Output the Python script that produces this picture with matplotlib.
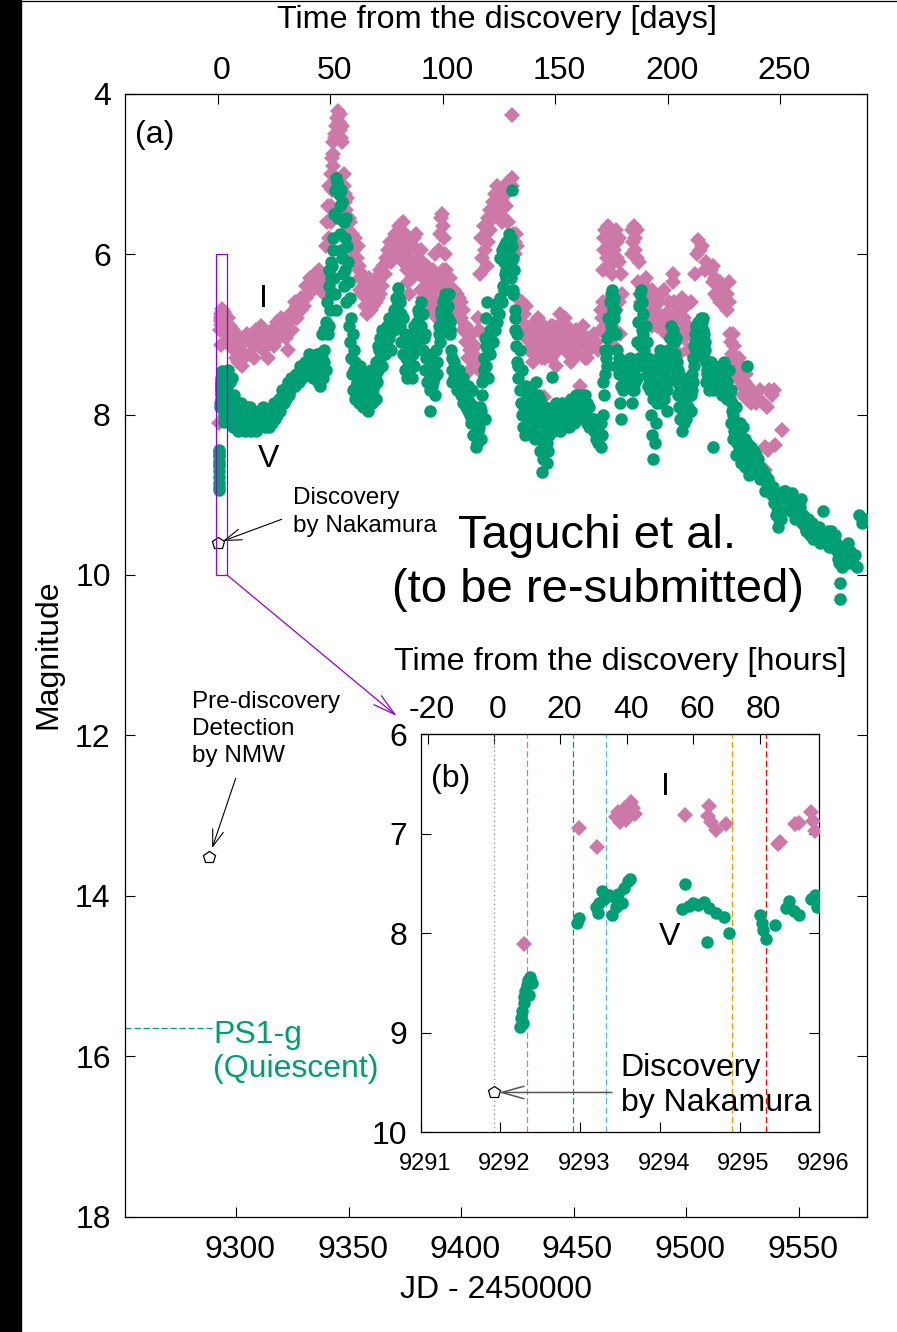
import matplotlib
matplotlib.use("Agg")
import matplotlib.pyplot as plt
from matplotlib.patches import Rectangle
from matplotlib.lines import Line2D
from matplotlib.transforms import ScaledTranslation

plt.rcParams['font.family'] = ['Liberation Sans', 'DejaVu Sans']
plt.rcParams['axes.unicode_minus'] = False

W, H = 897, 1332
GREEN = '#009E73'
PINK = '#CC79A7'
VIOLET = '#9400D3'

# ---- data (JD - 2450000, magnitude) ----
v_jd = [
    9292.24, 9292.26, 9292.27, 9292.29, 9292.30, 9292.31, 9292.33, 9292.35, 9292.37, 9292.39, 9292.36, 9292.28,
    9292.96, 9292.98, 9293.20, 9293.24, 9293.30, 9293.36, 9293.42, 9293.48, 9293.55, 9293.60, 9293.63, 9293.45,
    9293.22, 9293.40, 9293.52, 9293.28,
    9294.28, 9294.32, 9294.36, 9294.42, 9294.48, 9294.55, 9294.59, 9294.62, 9294.70, 9294.80, 9294.87,
    9295.25, 9295.28, 9295.30, 9295.33, 9295.45, 9295.58, 9295.62, 9295.68, 9295.74, 9295.90, 9295.94, 9295.97,
    9296.3, 9296.8, 9297.3, 9297.8, 9298.3, 9298.8, 9299.3, 9299.8, 9300.3, 9300.8, 9301.3, 9301.8, 9302.3, 9302.8, 9303.3, 9303.8,
    9305, 9306, 9307, 9308, 9309, 9310, 9311, 9312, 9313, 9314,
    9315, 9316, 9317, 9318, 9319, 9320, 9321, 9322, 9323, 9324,
    9325, 9326, 9327, 9328, 9329, 9330, 9331, 9332, 9333, 9334,
    9335, 9336, 9337, 9338, 9339, 9340, 9336.5, 9338.5,
    9341.0, 9341.3, 9341.6, 9342.0, 9342.3, 9342.6, 9343.0, 9343.3, 9343.6, 9344.0,
    9344.3, 9344.8, 9345.3, 9345.8, 9346.3, 9346.8, 9347.3, 9347.8, 9348.3, 9348.8,
    9349.3, 9349.8, 9350.3, 9350.8, 9351.3, 9351.8, 9352.3, 9352.8, 9353.3, 9353.8,
    9354.3, 9355.0, 9355.8, 9356.5, 9357.3, 9358.0, 9358.8, 9359.5, 9360.3,
    9361, 9362, 9363, 9364, 9365, 9366, 9367, 9368, 9369, 9370,
    9371, 9372, 9373, 9374, 9375, 9376, 9377, 9378, 9379, 9380,
    9381, 9382, 9383, 9384, 9385, 9386, 9386.5, 9387.5, 9388.5, 9389.5,
    9390.5, 9391.5, 9392.5, 9393.5, 9394.5, 9395, 9396, 9397, 9398, 9399,
    9400, 9401, 9402, 9403, 9404, 9404.5, 9405.5, 9406.5, 9407, 9407.5,
    9408.5, 9409.3, 9410.0, 9410.5, 9411.0, 9411.5, 9409.0, 9410.8, 9412.0, 9412.8,
    9413.5, 9414.5, 9415.5, 9416.5, 9417.5, 9418.5, 9419.5, 9420.5, 9421.0, 9421.5,
    9422.0, 9422.5, 9422.7, 9423.0, 9423.5, 9424.0, 9424.5, 9425.0, 9425.5, 9426.0,
    9426.5, 9427.0, 9427.5, 9428.0, 9419.0, 9420.0,
    9429, 9430, 9431, 9431.5, 9432, 9433, 9433.5, 9434, 9435, 9435.5,
    9436, 9436.5, 9437, 9437.5, 9438, 9439, 9440, 9440.4, 9441, 9442,
    9443, 9444, 9445, 9446, 9447, 9448, 9449, 9450, 9451, 9452,
    9453, 9454, 9455, 9456, 9457, 9458, 9459, 9460, 9461, 9462,
    9462.5, 9463, 9463.5, 9464, 9464.5, 9465, 9465.5, 9466, 9466.5, 9467,
    9467.5, 9468, 9468.5, 9469, 9470, 9470.5, 9471, 9472, 9473, 9474,
    9475, 9476, 9477, 9478, 9478.5, 9479, 9479.5, 9480, 9480.5, 9481,
    9482, 9482.5, 9483, 9483.5, 9484, 9484.5, 9485, 9485.5, 9486, 9486.5,
    9487, 9487.5, 9488, 9488.5, 9489, 9489.5, 9490, 9490.5, 9491, 9491.5,
    9492, 9493, 9493.5, 9494, 9494.5, 9495, 9495.5, 9496, 9496.5, 9497,
    9497.5, 9498, 9498.5, 9499, 9499.5, 9500, 9500.5, 9501, 9502, 9502.5,
    9503, 9503.5, 9504, 9504.5, 9505, 9505.5, 9506, 9506.5, 9507, 9507.5,
    9508, 9508.5, 9509, 9509.5, 9510, 9510.5, 9511, 9512, 9512.5, 9513,
    9514, 9515, 9516, 9517, 9518, 9519, 9520, 9520.5, 9521, 9521.5,
    9522, 9522.5, 9523, 9523.5, 9524, 9524.5, 9525, 9525.5, 9526, 9527,
    9527.5, 9528, 9529, 9530, 9531, 9532, 9533, 9534, 9535, 9536,
    9537, 9538, 9539, 9540, 9541, 9542, 9543, 9544, 9545, 9546,
    9547, 9548, 9549, 9550, 9551, 9552, 9553, 9554, 9555, 9556,
    9557, 9558, 9559, 9560, 9561, 9562, 9563, 9564, 9565, 9566,
    9567, 9568, 9568.4, 9568.6, 9569, 9570, 9571, 9572, 9573, 9574,
    9575, 9576, 9577, 9578, 9579.5,
    # further nightly measurements
    9297, 9298, 9299, 9300, 9301, 9302, 9303, 9304, 9305.5, 9306.5,
    9307.5, 9308.5, 9309.5, 9310.5, 9311.5, 9312.5, 9313.5, 9314.5, 9315.5, 9316.5,
    9317.5, 9318.5, 9319.5, 9320.5, 9321.5, 9322.5, 9323.5, 9324.5, 9325.5, 9326.5,
    9327.5, 9328.5, 9329.5, 9330.5, 9331.5, 9332.5, 9333.5, 9334.5, 9335.5, 9336,
    9337, 9338, 9339, 9337.5, 9338.2, 9339.2, 9340.2, 9340.5, 9341.2, 9341.5,
    9342.2, 9343.5, 9344.2, 9344.6, 9345.5, 9346.0, 9346.5, 9347.0, 9347.5, 9348.0,
    9348.5, 9349.0, 9350.0, 9350.5, 9351.0, 9351.5, 9352.0, 9353.0, 9354.0, 9355.0,
    9356, 9357, 9358, 9359, 9360, 9361, 9362, 9362.5, 9363, 9364,
    9365, 9366, 9367, 9368, 9369, 9370, 9371, 9372, 9373, 9373.5,
    9374, 9375, 9376, 9377, 9378, 9379, 9380, 9381, 9382, 9383,
    9384, 9385, 9386, 9387, 9388, 9389, 9390, 9391, 9392, 9393,
    9394, 9395, 9395.5, 9396, 9397, 9398, 9399, 9400, 9401, 9402,
    9403, 9404, 9405, 9406, 9407, 9408, 9409, 9410, 9411, 9412,
    9413, 9414, 9415, 9416, 9417, 9418, 9419, 9420, 9421, 9422,
    9423, 9424, 9425, 9426, 9427, 9428, 9428.5, 9429, 9430, 9431,
    9432, 9433, 9434, 9435, 9436, 9437, 9438, 9439, 9440, 9441,
    9442, 9443, 9444, 9445, 9446, 9447, 9448, 9449, 9450, 9451,
    9452, 9453, 9454, 9455, 9456, 9457, 9459, 9460, 9461, 9462,
    9463, 9464, 9465, 9466, 9467, 9468, 9469, 9470, 9471, 9472,
    9473, 9474, 9475, 9476, 9477, 9478, 9479, 9480, 9481, 9482,
    9483, 9484, 9485, 9486, 9487, 9488, 9489, 9490, 9491, 9493,
    9494, 9495, 9496, 9497, 9498, 9499, 9500, 9501, 9502, 9503,
    9504, 9505, 9506, 9507, 9508, 9509, 9510, 9511, 9512, 9513,
    9514, 9515, 9516, 9517, 9518, 9519, 9520, 9521, 9522, 9523,
    9524, 9525, 9526, 9527, 9528, 9529, 9530, 9531, 9532, 9533,
    9534, 9535, 9536.5, 9537.5, 9538.5, 9539.5, 9540.5, 9541.5, 9542.5, 9543.5,
    9544.5, 9545.5, 9546.5, 9547.5, 9548.5, 9549.5, 9550.5, 9551.5, 9552.5, 9553.5,
    9554.5, 9555.5, 9556.5, 9557.5, 9558.5, 9559.5, 9560.5, 9562.5, 9563.5, 9564.5,
    9566.5, 9567.5, 9569.5, 9570.5, 9571.5, 9572.5,
    9352.5, 9353.5, 9354.5, 9355.5, 9356.5, 9357.5, 9358.5, 9359.5, 9360.5, 9361.5,
    9362.2, 9363.5, 9364.5, 9365.5, 9366.5, 9367.5, 9368.5, 9369.5, 9370.5, 9371.5,
    9372.5, 9373.2, 9374.5, 9375.5, 9376.5, 9377.5, 9378.5, 9379.5, 9380.5, 9381.5,
    9382.5, 9383.5, 9384.5, 9385.5, 9386.2, 9387.2, 9388.2, 9389.2, 9390.2, 9391.2,
    9392.2, 9393.2, 9394.2, 9395.2, 9396.2, 9397.2, 9398.2, 9399.2, 9400.2, 9401.2,
    9402.2, 9403.2, 9404.2, 9405.2, 9406.2, 9407.2, 9408.2, 9409.5, 9410.2, 9411.2,
    9465.5, 9466.5, 9467.5, 9468.5, 9469.5, 9470.5, 9471.5, 9472.5, 9473.5, 9474.5,
    9475.5, 9476.5, 9477.5, 9478.5, 9479.5, 9480.5, 9481.5, 9482.5, 9483.5, 9484.5,
    9485.5, 9486.5, 9487.5, 9488.5, 9489.5, 9490.5, 9491.5, 9492.5, 9493.5, 9494.5,
    9495.5, 9496.5, 9497.5, 9498.5, 9499.5, 9500.5, 9501.5, 9502.5, 9503.5, 9504.5,
    9505.5, 9506.5, 9507.5, 9508.5, 9509.5, 9510.5, 9511.5, 9512.5, 9513.5, 9514.5,
    9515.5, 9516.5, 9517.5, 9518.5, 9519.5, 9520.5, 9521.5, 9522.5, 9523.5, 9524.5,
    9429.5, 9430.5, 9431.5, 9432.5, 9433.5, 9434.5, 9435.5, 9436.5, 9437.5, 9438.5,
    9439.5, 9440.5, 9441.5, 9442.5, 9443.5, 9444.5, 9445.5, 9446.5, 9447.5, 9448.5,
    9417.2, 9418.2, 9419.2, 9420.2, 9421.2, 9421.7, 9422.2, 9423.2, 9424.2, 9425.2,
]
v_mag = [
    8.94, 8.85, 8.78, 8.70, 8.64, 8.58, 8.52, 8.47, 8.44, 8.50, 8.62, 8.90,
    7.90, 7.85, 7.74, 7.70, 7.66, 7.62, 7.64, 7.61, 7.55, 7.48, 7.46, 7.74,
    7.80, 7.82, 7.70, 7.58,
    7.76, 7.51, 7.73, 7.70, 7.72, 7.69, 8.09, 7.75, 7.80, 7.84, 8.00,
    7.82, 7.90, 7.97, 8.06, 7.92, 7.75, 7.68, 7.78, 7.82, 7.66, 7.62, 7.74,
    7.45, 7.95, 7.60, 8.10, 7.85, 8.15, 7.75, 8.05, 7.90, 8.20, 7.95, 8.10, 7.85, 8.15, 8.00, 8.20,
    8.05, 7.90, 8.15, 8.00, 8.20, 7.95, 8.10, 7.90, 8.15, 8.05,
    7.95, 8.10, 7.85, 8.00, 7.80, 7.85, 7.70, 7.80, 7.60, 7.70,
    7.55, 7.65, 7.50, 7.60, 7.45, 7.50, 7.35, 7.45, 7.30, 7.55,
    7.35, 7.25, 7.40, 7.30, 7.20, 7.45, 7.60, 7.55,
    7.00, 6.90, 6.70, 6.50, 6.30, 6.15, 5.95, 5.80, 5.50, 5.20,
    5.05, 5.10, 5.15, 5.25, 5.40, 5.20, 5.35, 5.60, 5.80, 5.55,
    5.90, 6.10, 6.35, 6.55, 6.80, 7.00, 7.20, 7.35, 7.50, 7.60,
    7.70, 7.80, 7.85, 7.90, 7.75, 7.85, 7.95, 7.80, 7.70,
    7.55, 7.35, 7.15, 7.05, 6.95, 7.10, 6.90, 6.80, 6.95, 6.70,
    6.55, 6.42, 6.60, 6.80, 7.00, 7.25, 7.45, 7.55, 7.40, 6.95,
    6.70, 6.60, 6.75, 7.00, 7.25, 7.95, 7.40, 7.60, 7.75, 7.50,
    7.10, 6.80, 6.55, 6.70, 6.50, 6.85, 7.30, 7.55, 7.45, 7.70,
    7.60, 7.85, 7.75, 7.95, 7.85, 8.10, 8.25, 8.40, 8.35, 8.20,
    7.90, 7.60, 7.30, 7.05, 6.80, 6.60, 8.30, 8.05, 7.20, 6.95,
    7.00, 6.85, 6.70, 6.60, 6.55, 6.40, 6.25, 6.10, 6.00, 5.85,
    5.80, 5.90, 5.20, 6.05, 6.20, 6.95, 7.15, 7.35, 7.55, 7.70,
    7.85, 8.00, 8.15, 7.95, 6.10, 6.30,
    7.90, 8.05, 7.70, 8.20, 7.85, 8.30, 7.60, 8.10, 8.45, 8.00,
    8.72, 8.55, 8.25, 7.90, 8.35, 8.10, 7.95, 7.53, 8.20, 8.05,
    8.15, 7.95, 8.10, 7.95, 8.05, 7.90, 8.00, 7.85, 7.95, 7.80,
    7.95, 7.85, 8.00, 8.10, 7.90, 8.05, 8.20, 8.30, 8.15, 8.40,
    8.25, 8.00, 7.75, 7.50, 7.30, 7.05, 6.80, 6.60, 6.50, 6.45,
    6.60, 6.80, 7.00, 7.40, 7.50, 7.85, 8.05, 7.45, 7.55, 7.40,
    7.50, 7.85, 7.45, 7.10, 6.85, 6.65, 6.50, 6.45, 6.60, 6.75,
    6.90, 7.10, 7.30, 7.50, 7.70, 8.00, 8.25, 8.55, 8.35, 8.10,
    7.60, 7.30, 7.45, 7.20, 7.40, 7.60, 7.80, 7.55, 7.35, 7.95,
    7.20, 7.05, 6.90, 6.95, 7.10, 7.25, 7.05, 7.60, 7.75, 7.90,
    8.05, 8.20, 7.85, 7.70, 8.00, 7.80, 7.65, 7.90, 7.75, 7.50,
    7.30, 7.15, 7.00, 6.90, 7.05, 6.85, 6.95, 6.80, 6.85, 6.80,
    7.00, 7.20, 7.35, 7.50, 7.40, 7.60, 7.35, 8.40, 7.45, 7.65,
    7.55, 7.40, 7.50, 7.35, 7.60, 7.45, 7.70, 7.85, 8.00, 8.20,
    7.90, 8.35, 8.10, 8.50, 8.25, 8.60, 8.40, 8.15, 8.30, 7.40,
    8.45, 8.55, 8.40, 8.60, 8.50, 8.70, 8.65, 8.80, 8.75, 8.90,
    8.85, 9.00, 9.10, 9.25, 9.40, 9.30, 9.00, 8.95, 9.05, 9.10,
    8.98, 9.20, 9.15, 9.30, 9.05, 9.25, 9.40, 9.30, 9.50, 9.35,
    9.45, 9.55, 9.40, 9.50, 9.20, 9.60, 9.45, 9.55, 9.65, 9.50,
    9.70, 9.85, 10.10, 10.30, 9.75, 9.65, 9.80, 9.60, 9.70, 9.85,
    9.75, 9.90, 9.25, 9.35, 9.30,
    # further nightly measurements
    7.75, 7.55, 7.95, 8.10, 7.85, 8.00, 7.90, 8.10, 7.90, 8.20,
    7.95, 8.10, 8.05, 8.15, 7.95, 8.10, 7.95, 8.15, 8.05, 7.90,
    8.05, 7.85, 7.95, 7.70, 7.85, 7.65, 7.75, 7.55, 7.65, 7.50,
    7.60, 7.40, 7.55, 7.35, 7.50, 7.25, 7.45, 7.30, 7.50, 7.40,
    7.25, 7.45, 7.35, 7.65, 7.00, 6.95, 6.85, 6.60, 6.40, 6.20,
    6.10, 6.30, 6.50, 6.70, 5.55, 5.75, 5.95, 6.05, 6.25, 6.40,
    6.20, 6.60, 6.90, 7.10, 7.30, 7.50, 7.70, 7.80, 7.55, 7.40,
    7.60, 7.85, 7.50, 7.65, 7.45, 7.75, 7.80, 7.60, 7.45, 7.30,
    7.40, 7.25, 7.15, 7.05, 7.20, 6.95, 6.85, 6.70, 6.90, 7.10,
    7.25, 7.45, 7.55, 7.20, 7.05, 6.90, 7.15, 7.00, 6.90, 7.20,
    7.45, 7.60, 7.70, 7.30, 7.45, 7.20, 6.90, 6.70, 6.85, 6.50,
    6.80, 7.00, 7.20, 7.60, 7.35, 7.70, 7.45, 7.75, 7.55, 7.90,
    7.65, 8.00, 7.70, 7.90, 8.05, 8.15, 7.95, 7.55, 7.40, 7.55,
    7.25, 7.10, 6.95, 6.85, 6.75, 6.60, 6.45, 6.20, 6.15, 6.30,
    6.50, 6.70, 7.00, 7.20, 7.45, 7.70, 8.25, 7.65, 7.80, 7.95,
    8.05, 7.95, 7.75, 7.80, 8.25, 8.45, 8.60, 8.25, 8.20, 7.90,
    7.85, 7.90, 8.20, 7.85, 8.15, 7.85, 8.15, 7.80, 8.10, 7.75,
    8.05, 7.75, 8.05, 7.75, 7.85, 8.15, 8.05, 8.10, 8.35, 8.10,
    7.60, 7.20, 7.40, 7.00, 6.80, 6.55, 7.00, 7.30, 7.65, 7.70,
    7.35, 7.65, 7.30, 7.60, 7.70, 7.55, 7.30, 7.15, 7.00, 7.40,
    7.65, 7.40, 7.60, 7.70, 7.85, 7.65, 7.85, 7.30, 7.60, 7.40,
    7.30, 7.55, 7.35, 7.50, 7.60, 8.10, 8.05, 7.55, 7.95, 7.60,
    7.10, 7.20, 7.10, 7.05, 7.30, 7.60, 7.70, 7.55, 7.70, 7.45,
    7.70, 7.60, 7.75, 7.65, 7.80, 7.70, 8.10, 8.30, 8.50, 8.30,
    8.10, 8.55, 8.65, 8.35, 8.75, 8.60, 8.45, 8.70, 8.55, 8.80,
    8.70, 8.95, 8.80, 8.95, 8.90, 9.05, 9.15, 9.30, 9.20, 8.95,
    9.05, 9.00, 9.20, 9.10, 9.30, 9.25, 9.15, 9.35, 9.30, 9.45,
    9.40, 9.40, 9.55, 9.50, 9.45, 9.60, 9.55, 9.50, 9.65, 9.45,
    9.60, 9.80, 9.90, 9.75, 9.70, 9.85,
    7.45, 7.65, 7.85, 7.55, 7.75, 7.65, 7.80, 7.55, 7.85, 7.65,
    7.50, 7.20, 7.15, 7.25, 6.95, 7.00, 6.90, 6.80, 6.80, 6.65,
    6.55, 6.75, 7.10, 7.30, 7.40, 7.35, 7.25, 7.05, 6.85, 6.75,
    6.75, 7.05, 7.30, 7.45, 7.55, 7.65, 7.55, 7.35, 7.00, 6.75,
    6.60, 6.65, 6.65, 6.95, 7.45, 7.45, 7.60, 7.60, 7.65, 7.70,
    7.80, 7.75, 7.95, 7.95, 8.05, 8.15, 8.05, 7.75, 7.45, 7.15,
    7.20, 6.90, 6.70, 6.70, 7.20, 7.45, 7.50, 7.60, 7.45, 7.55,
    7.40, 7.70, 7.60, 7.40, 7.10, 6.95, 7.20, 7.50, 7.55, 7.55,
    7.80, 7.60, 7.70, 7.75, 7.70, 7.45, 7.70, 7.30, 7.20, 7.35,
    7.45, 7.45, 7.70, 7.95, 7.85, 7.95, 7.75, 7.70, 7.40, 7.20,
    7.00, 7.05, 6.95, 7.10, 7.45, 7.45, 7.65, 7.55, 7.55, 7.60,
    7.50, 7.60, 7.50, 7.70, 7.80, 7.95, 8.10, 8.20, 8.40, 8.40,
    7.75, 7.90, 7.85, 7.95, 8.10, 7.90, 8.25, 8.35, 8.10, 8.45,
    8.00, 8.10, 8.05, 7.95, 8.05, 8.05, 8.00, 8.05, 7.95, 8.05,
    6.05, 5.95, 5.90, 5.85, 5.75, 6.20, 6.10, 6.45, 6.80, 7.40,
]

i_jd = [
    9292.29, 9292.98, 9293.21, 9293.45, 9293.48, 9293.52, 9293.55, 9293.58, 9293.62, 9293.64, 9293.66, 9293.69, 9293.50,
    9294.32, 9294.60, 9294.62, 9294.64, 9294.71, 9294.83, 9295.48, 9295.51, 9295.69, 9295.75, 9295.90, 9295.92, 9295.94,
    9296.5, 9297.0, 9297.5, 9298.0, 9298.5, 9299.0, 9299.5, 9300.0, 9300.5, 9301.0,
    9301.5, 9302.0, 9302.5, 9303.0, 9303.5, 9304.0, 9305, 9306, 9307, 9308,
    9309, 9310, 9311, 9312, 9313, 9314, 9315, 9316, 9317, 9318,
    9319, 9320, 9321, 9322, 9323, 9324, 9325, 9326, 9327, 9328,
    9329, 9330, 9331, 9332, 9333, 9334, 9335, 9336, 9337, 9338,
    9339, 9340, 9341,
    9341.5, 9342.0, 9342.2, 9342.5, 9342.8, 9343.0, 9343.3, 9343.8, 9344.3, 9344.8,
    9345.3, 9345.8, 9346.3, 9346.8, 9347.3, 9347.8, 9348.3, 9348.8, 9349.3, 9349.8,
    9350.3, 9350.8, 9351.5, 9352.3, 9353.0, 9353.8, 9354.5, 9355.3, 9356.0, 9356.8,
    9357.5, 9358.3, 9359.0, 9360.0, 9361.0, 9362.0, 9363.0, 9364.0, 9365.0, 9365.5,
    9366.5, 9367.5, 9368.5, 9369.5, 9370.5, 9371.5, 9372.5, 9373.5, 9374.0, 9374.5,
    9375.5, 9376.0, 9376.5, 9377.0, 9377.5, 9378.5, 9379.5, 9380.0, 9380.5, 9381.5,
    9382.0, 9382.5, 9383.0, 9383.5, 9384.0, 9384.5, 9385.0, 9385.5, 9386.0, 9386.5,
    9387.0, 9387.5, 9388.0, 9388.5, 9389.0, 9389.5, 9390.5, 9391.0, 9391.5, 9392.0,
    9392.5, 9393.0, 9393.5, 9394.0, 9394.5, 9395, 9396, 9397, 9398, 9399,
    9400, 9401, 9402, 9403, 9404, 9405, 9406, 9407.5, 9408,
    9408.5, 9409.5, 9410.5, 9411.5, 9412, 9413, 9414, 9415, 9416, 9417,
    9418, 9419, 9420, 9421, 9422.5, 9422.7, 9422.8, 9423.0, 9423.5, 9424.0,
    9425, 9426, 9427, 9428, 9429, 9430, 9431, 9432, 9433, 9434,
    9435, 9436, 9437, 9437.5, 9438, 9439, 9440, 9441, 9442, 9443,
    9444, 9445, 9446, 9447, 9448, 9449, 9450, 9451, 9452, 9453,
    9454, 9455, 9456, 9457,
    9458, 9459, 9460, 9461, 9462, 9462.5, 9463, 9463.5, 9464, 9464.5,
    9465, 9465.5, 9466, 9467, 9468, 9469, 9469.5, 9470, 9471, 9471.5,
    9466.5, 9468.5, 9470.5, 9476, 9476.5, 9477, 9477.5, 9478, 9478.5, 9479.5,
    9480.5, 9481, 9482, 9483, 9484, 9485, 9486, 9487, 9488, 9489,
    9490, 9491, 9492.5, 9493.5, 9494, 9494.3, 9494.5, 9495.5, 9496, 9497,
    9498, 9499, 9500, 9501, 9504, 9505, 9505.5, 9508.5, 9512, 9513,
    9514, 9515, 9516, 9517, 9518, 9519, 9521, 9521.3, 9522, 9523,
    9524, 9525, 9526, 9527, 9528, 9530, 9531, 9533, 9536, 9538,
    9539, 9535, 9536.5, 9539.5, 9535.2, 9542.7,
    # further nightly measurements
    9298, 9300, 9302, 9304, 9306, 9308, 9310, 9312, 9314, 9316,
    9318, 9320, 9322, 9324, 9327, 9329, 9331, 9333, 9335, 9337,
    9339, 9340, 9340.5, 9341, 9341.5, 9342, 9342.5, 9343, 9344, 9345,
    9346, 9347, 9348, 9348.5, 9349, 9350, 9350.5, 9351, 9352, 9353,
    9354, 9355, 9356, 9357, 9358, 9359, 9360, 9361, 9362, 9363,
    9364, 9365, 9366, 9367, 9368, 9369, 9370, 9371, 9372, 9373,
    9374, 9375, 9376, 9377, 9378, 9379, 9380, 9381, 9382, 9383,
    9384, 9385, 9386, 9387, 9388, 9389, 9390, 9390.5, 9391, 9392,
    9393, 9394, 9395, 9396, 9397, 9398, 9399, 9400, 9401, 9402,
    9403, 9404, 9405, 9406, 9407, 9408, 9409, 9410, 9411, 9412,
    9413, 9414, 9415, 9416, 9417, 9418, 9419, 9420, 9421, 9424,
    9424.5, 9425, 9426, 9427, 9428, 9429, 9430, 9431, 9432, 9433,
    9434, 9435, 9436, 9437, 9438, 9439, 9440, 9441, 9442, 9443,
    9444, 9445, 9446, 9447, 9448, 9449, 9450, 9451, 9452, 9453,
    9454, 9455, 9456, 9462, 9463, 9464, 9465, 9466, 9467, 9468,
    9469, 9470, 9463.5, 9464.2, 9465.2, 9467.2, 9468.2, 9469.2, 9470.2, 9476.2,
    9477.2, 9478.2, 9479.2, 9480, 9481, 9482, 9483, 9484, 9485, 9486,
    9487, 9488, 9489, 9490, 9491, 9492, 9493, 9494.8, 9495, 9496,
    9497, 9498, 9499, 9500, 9501, 9502, 9506, 9507, 9509, 9511,
    9512, 9513, 9514, 9515, 9516, 9517, 9518, 9519, 9519.5, 9520,
    9520.5, 9521.5, 9522.5, 9523.5, 9524.5, 9525.5, 9526.5, 9527.5, 9529, 9532,
    9534, 9537,
]
i_mag = [
    8.11, 6.94, 7.13, 6.83, 6.78, 6.81, 6.75, 6.86, 6.72, 6.68, 6.74, 6.80, 6.88,
    6.81, 6.82, 6.72, 6.88, 6.96, 6.90, 7.10, 7.08, 6.90, 6.89, 6.78, 6.87, 6.97,
    6.80, 7.05, 6.90, 7.15, 6.95, 7.20, 7.00, 7.30, 7.10, 7.35,
    7.15, 7.25, 7.40, 7.10, 7.30, 7.05, 7.00, 7.25, 7.10, 7.30,
    6.95, 7.15, 6.90, 7.20, 7.05, 7.30, 7.10, 6.95, 7.15, 6.85,
    7.05, 6.80, 7.00, 6.90, 7.20, 6.75, 6.95, 6.60, 6.80, 6.70,
    6.55, 6.65, 6.40, 6.50, 6.30, 6.45, 6.25, 6.40, 6.20, 6.35,
    6.50, 6.30, 6.45,
    5.80, 5.60, 5.40, 5.20, 5.00, 4.90, 4.75, 4.55, 4.40, 4.30,
    4.22, 4.35, 4.45, 4.55, 4.60, 5.15, 5.35, 5.55, 5.30, 5.70,
    5.85, 5.60, 5.75, 5.95, 5.80, 6.05, 6.15, 6.30, 6.50, 6.40,
    6.65, 6.75, 6.55, 6.70, 6.45, 6.60, 6.35, 6.50, 6.25, 6.15,
    6.05, 5.95, 5.85, 5.90, 5.75, 5.80, 5.65, 5.70, 5.60, 5.80,
    6.00, 6.20, 6.35, 6.50, 6.10, 5.90, 6.15, 5.75, 5.95, 6.25,
    6.45, 6.10, 6.55, 6.30, 6.70, 6.40, 6.15, 6.60, 6.35, 6.70,
    6.50, 6.20, 6.45, 6.00, 6.60, 6.80, 5.75, 5.55, 5.50, 5.65,
    5.80, 6.00, 6.20, 6.45, 6.70, 6.30, 6.45, 6.60, 6.75, 6.55,
    6.80, 6.95, 7.10, 7.30, 7.45, 7.20, 7.35, 6.80, 6.95,
    6.25, 6.05, 5.95, 6.15, 5.85, 5.70, 5.55, 5.40, 5.50, 5.30,
    5.35, 5.20, 5.40, 5.60, 5.05, 4.27, 5.15, 5.75, 5.90, 6.00,
    6.55, 6.70, 6.85, 7.00, 6.65, 7.20, 6.90, 7.35, 7.05, 6.80,
    7.15, 6.95, 7.78, 7.30, 7.05, 7.25, 6.90, 7.15, 7.40, 7.00,
    6.75, 7.10, 6.80, 7.20, 7.00, 7.35, 7.10, 6.95, 7.25, 7.65,
    7.10, 7.30, 7.05, 7.20,
    7.15, 7.00, 7.10, 7.20, 6.70, 6.80, 6.20, 5.95, 5.70, 5.80,
    6.05, 5.90, 6.15, 6.25, 5.95, 5.70, 5.85, 6.10, 6.25, 6.50,
    6.70, 6.95, 7.00, 5.70, 5.85, 5.65, 5.95, 6.05, 6.35, 6.50,
    6.40, 6.65, 6.30, 6.55, 6.80, 6.45, 6.70, 6.90, 6.60, 6.85,
    6.45, 6.75, 6.60, 6.80, 6.25, 6.35, 6.95, 7.10, 6.70, 7.25,
    6.90, 7.05, 6.65, 7.20, 6.25, 6.00, 5.82, 6.20, 6.35, 6.50,
    6.40, 6.60, 6.45, 6.55, 6.70, 6.60, 7.00, 7.15, 7.35, 7.50,
    7.45, 7.65, 7.60, 7.80, 7.70, 7.75, 7.85, 7.70, 7.90, 7.75,
    7.70, 8.40, 8.44, 8.38, 8.69, 8.19,
    # further nightly measurements
    7.05, 7.15, 7.05, 7.25, 7.05, 7.15, 7.00, 7.00, 7.10, 7.10,
    7.05, 7.00, 7.05, 6.85, 6.65, 6.70, 6.55, 6.45, 6.40, 6.35,
    6.30, 5.90, 5.60, 5.40, 5.15, 5.00, 4.80, 4.60, 4.50, 4.40,
    4.25, 4.40, 5.00, 5.25, 5.45, 5.55, 5.95, 6.05, 5.85, 6.15,
    5.90, 6.45, 6.25, 6.35, 6.50, 6.30, 6.45, 6.65, 6.30, 6.55,
    6.20, 6.40, 6.25, 6.10, 6.05, 6.10, 5.95, 6.00, 5.85, 5.90,
    6.10, 5.75, 5.80, 5.95, 6.30, 5.80, 6.20, 6.05, 5.95, 6.15,
    6.25, 6.45, 6.55, 6.35, 6.70, 6.30, 5.95, 6.25, 6.40, 6.20,
    6.35, 6.55, 6.60, 6.70, 6.45, 6.50, 6.80, 6.60, 6.70, 6.90,
    7.00, 7.20, 7.00, 7.15, 7.30, 7.45, 5.80, 5.65, 5.75, 5.55,
    5.45, 5.35, 5.25, 5.15, 5.50, 5.60, 5.55, 5.25, 5.10, 5.85,
    5.75, 5.90, 6.95, 6.60, 6.75, 7.05, 6.95, 7.10, 6.95, 7.25,
    7.15, 6.85, 7.30, 6.95, 7.20, 6.95, 7.30, 6.90, 7.05, 7.20,
    6.95, 6.85, 7.05, 6.90, 7.25, 7.05, 7.25, 7.15, 7.00, 7.10,
    6.90, 7.05, 7.30, 6.95, 6.60, 6.90, 6.75, 7.05, 6.85, 7.15,
    6.70, 6.60, 5.80, 5.95, 5.65, 6.00, 5.75, 6.05, 5.80, 6.00,
    5.80, 5.70, 6.10, 6.60, 6.35, 6.70, 6.45, 6.60, 6.90, 6.55,
    6.75, 6.90, 6.50, 6.95, 7.00, 6.90, 7.20, 6.60, 6.75, 6.85,
    6.95, 6.55, 6.80, 6.95, 6.90, 6.60, 5.95, 5.90, 6.10, 6.20,
    6.15, 6.30, 6.55, 6.35, 6.60, 6.40, 6.50, 6.35, 7.00, 7.10,
    7.25, 7.40, 7.55, 7.30, 7.55, 7.75, 7.50, 7.65, 7.85, 7.80,
    7.85, 7.70,
]

discovery_jd, discovery_mag = 9291.92, 9.60
nmw_jd, nmw_mag = 9288.0, 13.52
ps1_mag, ps1_end_jd = 15.65, 9289.2
zoom_box = (9291, 6, 9296, 10)  # x0, y0, x1, y1 of the inset region

# inset reference lines (JD) and colours
vline_jd = [9291.916, 9292.33, 9292.91, 9293.33, 9294.91, 9295.33]
vline_color = ['#888888', PINK, GREEN, '#56B4E9', '#E69F00', '#FF0000']

day_ticks = [0, 50, 100, 150, 200, 250]
jd_ticks = [9300, 9350, 9400, 9450, 9500, 9550]
mag_ticks = [4, 6, 8, 10, 12, 14, 16, 18]
hour_ticks = [-20, 0, 20, 40, 60, 80]
inset_jd_ticks = [9291, 9292, 9293, 9294, 9295, 9296]
inset_mag_ticks = [6, 7, 8, 9, 10]


def px(x, y):
    # pixel position -> figure fraction
    return x / W, 1 - y / H


def nudge_labels(axis_obj, dx_px):
    # gnuplot puts x tick labels a few pixels right of their ticks
    off = ScaledTranslation(dx_px / 100, 0, fig.dpi_scale_trans)
    for lab in axis_obj.get_ticklabels():
        lab.set_transform(lab.get_transform() + off)


fig = plt.figure(figsize=(W / 100, H / 100), dpi=100)

# main panel
ax = fig.add_axes([125.3 / W, 1 - 1216.7 / H, (866.7 - 125.3) / W, (1216.7 - 93.7) / H])
ax.set_xlim(9250.8, 9580.3)
ax.set_ylim(18, 4)

ax.plot(i_jd, i_mag, ls='none', marker='D', ms=8.5, mew=0, color=PINK, zorder=3)
ax.plot(v_jd, v_mag, ls='none', marker='o', ms=9, mew=0, color=GREEN, zorder=4)
ax.plot([discovery_jd, nmw_jd], [discovery_mag, nmw_mag], ls='none', marker='p', ms=9,
        mfc='white', mec='black', mew=0.9, zorder=5)
ax.plot([9250.8, ps1_end_jd], [ps1_mag, ps1_mag], ls=(0, (5, 2.2)), color=GREEN, lw=0.9)

x0, y0, x1, y1 = zoom_box
ax.add_patch(Rectangle((x0, y0), x1 - x0, y1 - y0, fill=False, ec=VIOLET, lw=0.9, zorder=6))
ax.annotate('', xy=px(396.7, 716), xycoords='figure fraction', xytext=(x1, y1), textcoords='data',
            arrowprops=dict(arrowstyle='->,head_length=1.6,head_width=0.42', mutation_scale=10,
                            color=VIOLET, lw=0.9, shrinkA=0, shrinkB=0))
ax.annotate('', xy=(discovery_jd, discovery_mag), xytext=px(281.7, 519.3), textcoords='figure fraction',
            arrowprops=dict(arrowstyle='->,head_length=1.2,head_width=0.4', mutation_scale=10,
                            color='black', lw=0.8, shrinkA=0, shrinkB=4))
ax.annotate('', xy=(nmw_jd, nmw_mag), xytext=px(235.7, 778.3), textcoords='figure fraction',
            arrowprops=dict(arrowstyle='->,head_length=1.2,head_width=0.4', mutation_scale=10,
                            color='black', lw=0.8, shrinkA=0, shrinkB=7))

ax.set_xticks(jd_ticks)
ax.set_yticks(mag_ticks)
ax.tick_params(axis='x', direction='in', length=7.5, width=0.8, labelsize=23, pad=13, top=False)
ax.tick_params(axis='y', direction='in', length=7.5, width=0.8, labelsize=23, pad=10.5, right=True)
for s in ax.spines.values():
    s.set_linewidth(0.9)

top = ax.secondary_xaxis('top', functions=(lambda x: x - discovery_jd, lambda d: d + discovery_jd))
top.set_xticks(day_ticks)
top.tick_params(direction='in', length=7.5, width=0.8, labelsize=23, pad=5.5)

# inset panel
axi = fig.add_axes([420.7 / W, 1 - 1132.3 / H, 398.6 / W, 398.3 / H])
axi.set_xlim(x0, x1)
axi.set_ylim(y1, y0)
for jd, c in zip(vline_jd, vline_color):
    ls = (0, (1, 2.5)) if c == '#888888' else (0, (5, 2.5))
    axi.axvline(jd, color=c, lw=0.9, ls=ls, zorder=1)
axi.plot(i_jd, i_mag, ls='none', marker='D', ms=8.5, mew=0, color=PINK, zorder=3)
axi.plot(v_jd, v_mag, ls='none', marker='o', ms=9, mew=0, color=GREEN, zorder=4)
axi.plot([discovery_jd], [discovery_mag], ls='none', marker='p', ms=9,
         mfc='white', mec='black', mew=0.9, zorder=5)
axi.annotate('', xy=(discovery_jd, discovery_mag), xytext=(9293.40, discovery_mag),
             arrowprops=dict(arrowstyle='->,head_length=1.6,head_width=0.45', mutation_scale=10,
                             color='#555555', lw=1.1, shrinkA=0, shrinkB=3.5))
axi.set_xticks(inset_jd_ticks)
axi.set_yticks(inset_mag_ticks)
axi.tick_params(axis='x', direction='in', length=7.5, width=0.8, labelsize=17, pad=15, top=False)
axi.tick_params(axis='y', direction='in', length=7.5, width=0.8, labelsize=23, pad=9.7, right=True)
for s in axi.spines.values():
    s.set_linewidth(0.9)

topi = axi.secondary_xaxis('top', functions=(lambda x: (x - discovery_jd) * 24,
                                             lambda h: h / 24 + discovery_jd))
topi.set_xticks(hour_ticks)
topi.tick_params(direction='in', length=7.5, width=0.8, labelsize=23, pad=6.6)

for a in (ax.xaxis, top.xaxis, axi.xaxis, topi.xaxis):
    nudge_labels(a, 4)

# labels and notes (pixel positions)
fig.text(*px(496.5, 28.3), 'Time from the discovery [days]', fontsize=23.3, ha='center', va='baseline')
fig.text(*px(496, 1298), 'JD - 2450000', fontsize=23, ha='center', va='baseline')
fig.text(*px(48.5, 654), 'Magnitude', fontsize=23, ha='center', va='center', rotation=90)
fig.text(*px(620, 670), 'Time from the discovery [hours]', fontsize=23.3, ha='center', va='baseline')

fig.text(*px(135, 143), '(a)', fontsize=23, va='baseline')
fig.text(*px(263, 307), 'I', fontsize=23, ha='center', va='baseline')
fig.text(*px(268.5, 467), 'V', fontsize=23, ha='center', va='baseline')
fig.text(*px(292.7, 504), 'Discovery', fontsize=17.5, va='baseline')
fig.text(*px(292.7, 531.7), 'by Nakamura', fontsize=17.5, va='baseline')
fig.text(*px(597.5, 548), 'Taguchi et al.', fontsize=34, ha='center', va='baseline')
fig.text(*px(598, 602), '(to be re-submitted)', fontsize=34, ha='center', va='baseline')
fig.text(*px(191.7, 707.7), 'Pre-discovery', fontsize=17.5, va='baseline')
fig.text(*px(191.7, 735), 'Detection', fontsize=17.5, va='baseline')
fig.text(*px(191.7, 761.7), 'by NMW', fontsize=17.5, va='baseline')
fig.text(*px(213.3, 1043.3), 'PS1-g', fontsize=23, color=GREEN, va='baseline')
fig.text(*px(213.3, 1077), '(Quiescent)', fontsize=23, color=GREEN, va='baseline')

fig.text(*px(430.7, 786.7), '(b)', fontsize=23, va='baseline')
fig.text(*px(665, 795), 'I', fontsize=23, ha='center', va='baseline')
fig.text(*px(670, 945), 'V', fontsize=23, ha='center', va='baseline')
fig.text(*px(620.7, 1076), 'Discovery', fontsize=23, va='baseline')
fig.text(*px(620.7, 1110.7), 'by Nakamura', fontsize=23, va='baseline')

# black frame strip on the left and thin top edge
fig.add_artist(Rectangle((0, 0), 20.5 / W, 1, transform=fig.transFigure, color='black'))
fig.add_artist(Line2D([20.5 / W, 1], [1 - 0.6 / H, 1 - 0.6 / H], transform=fig.transFigure,
                      color='black', lw=0.9))

fig.savefig('out.png', dpi=100)
